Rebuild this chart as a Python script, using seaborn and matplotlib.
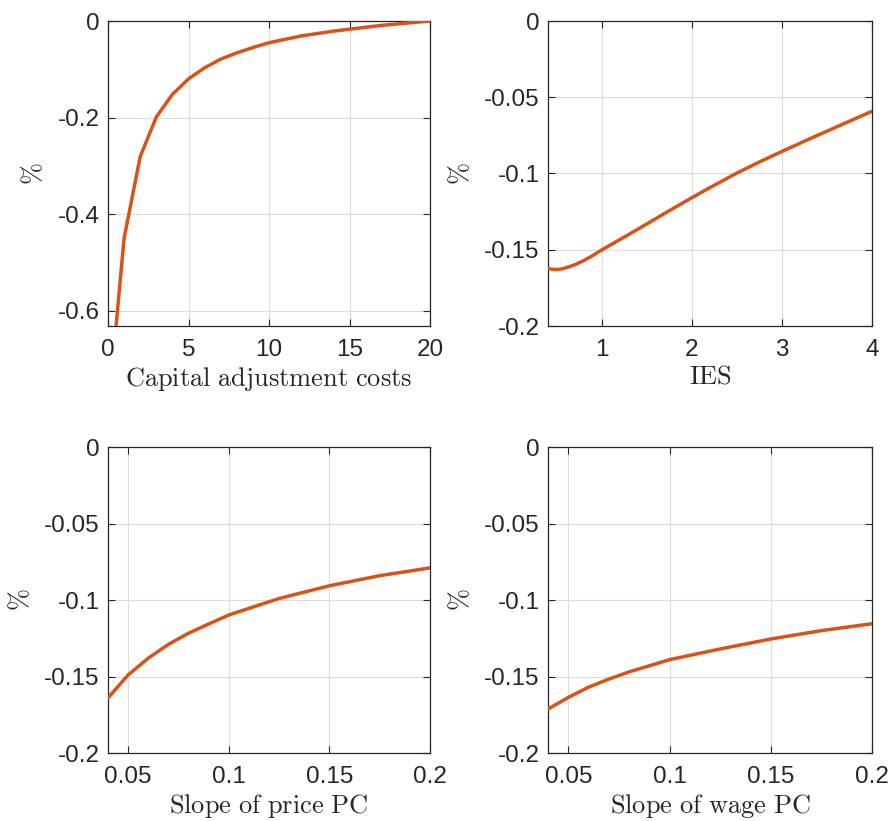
import numpy as np
import pandas as pd
import seaborn as sns
import matplotlib
matplotlib.use("Agg")
import matplotlib.pyplot as plt
from matplotlib.ticker import FuncFormatter

# ---- data ----
cap_x = [0.5, 1, 2, 3, 4, 5, 6, 7, 8, 9, 10, 11, 12, 13, 14, 15, 16, 17, 18, 19, 20]
cap_y = [-0.632, -0.45, -0.281, -0.199, -0.152, -0.120, -0.097, -0.079, -0.066, -0.055,
         -0.045, -0.038, -0.031, -0.026, -0.021, -0.017, -0.013, -0.009, -0.006, -0.003, 0.0]

ies_x = [0.4, 0.45, 0.5, 0.55, 0.6, 0.7, 0.8, 0.9, 1.0, 1.25, 1.5, 1.75, 2.0, 2.25, 2.5,
         2.75, 3.0, 3.25, 3.5, 3.75, 4.0]
ies_y = [-0.1623, -0.1628, -0.1630, -0.1626, -0.1618, -0.1598, -0.1570, -0.1537, -0.1500,
         -0.1416, -0.1330, -0.1243, -0.1158, -0.1076, -0.0997, -0.0924, -0.0855, -0.0788,
         -0.0722, -0.0657, -0.0592]

price_x = [0.04, 0.05, 0.06, 0.07, 0.08, 0.09, 0.10, 0.125, 0.15, 0.175, 0.20]
price_y = [-0.1640, -0.1490, -0.1380, -0.1290, -0.1217, -0.1157, -0.1098, -0.0990, -0.0907, -0.0841, -0.0790]

wage_x = [0.04, 0.05, 0.06, 0.07, 0.08, 0.09, 0.10, 0.125, 0.15, 0.175, 0.20]
wage_y = [-0.1713, -0.1637, -0.1570, -0.1517, -0.1470, -0.1430, -0.1390, -0.1320, -0.1255, -0.1200, -0.1155]

xlabels = ["Capital adjustment costs", "IES", "Slope of price PC", "Slope of wage PC"]

# ---- style ----
sns.set_style("ticks")
plt.rcParams["font.family"] = ["Liberation Sans", "DejaVu Sans"]
plt.rcParams["mathtext.fontset"] = "cm"
plt.rcParams["axes.unicode_minus"] = False

fig = plt.figure(figsize=(8.9, 8.21), dpi=100)
W, H = 890.0, 821.0
boxes = [(108, 21, 430, 326), (548, 21, 872, 326), (108, 447, 430, 753), (548, 447, 872, 753)]

panels = [
    (cap_x, cap_y, (0, 20), [0, 5, 10, 15, 20], (-0.632, 0), [-0.6, -0.4, -0.2, 0]),
    (ies_x, ies_y, (0.4, 4), [1, 2, 3, 4], (-0.2, 0), [-0.2, -0.15, -0.1, -0.05, 0]),
    (price_x, price_y, (0.04, 0.2), [0.05, 0.1, 0.15, 0.2], (-0.2, 0), [-0.2, -0.15, -0.1, -0.05, 0]),
    (wage_x, wage_y, (0.04, 0.2), [0.05, 0.1, 0.15, 0.2], (-0.2, 0), [-0.2, -0.15, -0.1, -0.05, 0]),
]

dark = "#262626"
line_color = "#D95319"

for (l, t, r, b), (xs, ys, xl, xt, yl, yt), lab in zip(boxes, panels, xlabels):
    ax = fig.add_axes([l / W, 1 - b / H, (r - l) / W, (b - t) / H])
    df = pd.DataFrame({"x": xs, "y": ys})
    sns.lineplot(data=df, x="x", y="y", ax=ax, color=line_color, linewidth=2.5, zorder=3)
    ax.set_xlim(*xl)
    ax.set_ylim(*yl)
    ax.set_xticks(xt)
    ax.set_yticks(yt)
    fmt = FuncFormatter(lambda v, p: f"{v:g}" if abs(v) > 1e-12 else "0")
    ax.xaxis.set_major_formatter(fmt)
    ax.yaxis.set_major_formatter(fmt)
    ax.grid(True, color="#dcdcdc", linewidth=0.8, zorder=0)
    ax.set_axisbelow(True)
    ax.tick_params(direction="in", length=5, width=0.8, colors=dark, labelsize=17.5,
                   top=True, right=True)
    ax.tick_params(axis="x", pad=9)
    ax.tick_params(axis="y", pad=6)
    for s in ax.spines.values():
        s.set_visible(True)
        s.set_color(dark)
        s.set_linewidth(0.9)
    ax.set_xlabel(r"$\mathrm{" + lab.replace(" ", r"\ ") + "}$", fontsize=19, color=dark, labelpad=3)
    ax.set_ylabel(r"$\%$", fontsize=19, color=dark, labelpad=8)

fig.savefig("out.png", dpi=100)
